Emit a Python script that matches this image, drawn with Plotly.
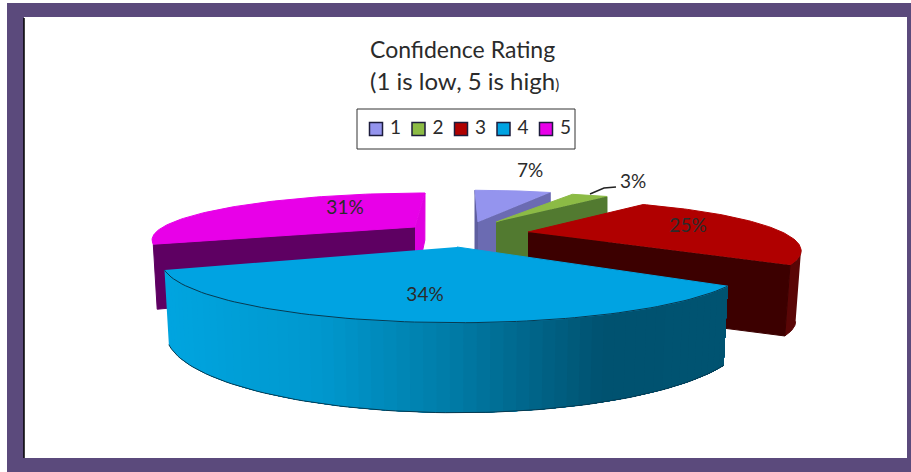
import numpy as np
import plotly.graph_objects as go

# ---- data ----
categories = ["1", "2", "3", "4", "5"]
percents = [7, 3, 25, 34, 31]
title_lines = ["Confidence Rating", '(1 is low, 5 is high<span style="font-size:15px">)</span>']

# ---- style: colours ----
top_colors = ["#9494ee", "#8cbb45", "#b00000", "#00a3e2", "#e800e8"]
cut_colors = ["#6b6bb2", "#527a30", "#3c0000", "#004b66", "#5e0062"]
rim_colors = [None, None, "#5a0606", None, None]
end_colors = ["#5f5fa0", None, None, None, "#e000e0"]
frame_color = "#5b4a7c"
ink = "#2b2b2b"
grad_stops = [(0.0, (0, 165, 224)), (0.28, (0, 152, 206)), (0.52, (0, 122, 165)),
              (0.78, (0, 82, 112)), (1.0, (0, 84, 114))]

# ---- style: projection per slice ----
proj = {
    0: dict(ax=478, ay=222, A=235, B=43.5, k=0.37, s=-3, h=62, hk=0.0, inset=1.0),
    1: dict(ax=496, ay=222, A=265, B=41, k=0.37, s=-11, h=60, hk=0.0, inset=1.0),
    2: dict(ax=528, ay=232, A=254, B=44, k=0.367, s=0, h=71, hk=0.0, inset=0.98),
    3: dict(ax=457, ay=247, A=286, B=57, k=0.247, s=0, h=67.8, hk=0.247, inset=0.985),
    4: dict(ax=415, ay=227, A=252, B=42.5, k=0.25, s=10, h=59, hk=0.25, inset=0.985),
}
draw_order = [0, 1, 4, 2, 3]
label_xy = [(530, 172), (633, 183), (688, 227), (425, 296), (345, 209)]
legend_box = (357, 575, 109, 149)
legend_first_x, legend_step, legend_y = 376, 42.5, 129


def project(i, theta, bottom=False):
    p = proj[i]
    th = np.radians(theta)
    X, Z = np.sin(th), np.cos(th)
    den = 1 + p["k"] * Z
    f = p["inset"] if bottom else 1.0
    x = p["ax"] + f * (p["A"] * X / den + p["s"] * Z)
    y = p["ay"] - p["B"] * Z / den
    if bottom:
        y = y + p["h"] / (1 + p["hk"] * Z)
    return x, y


def apex(i, bottom=False):
    p = proj[i]
    return p["ax"], p["ay"] + (p["h"] if bottom else 0)


def poly(xs, ys, color, line=None, width=1):
    fig.add_trace(go.Scatter(
        x=list(xs), y=list(ys), mode="lines", fill="toself", fillcolor=color,
        line=dict(color=line or color, width=width), hoverinfo="skip", showlegend=False))


def grad_color(t):
    for (t0, c0), (t1, c1) in zip(grad_stops, grad_stops[1:]):
        if t <= t1:
            u = (t - t0) / (t1 - t0)
            return "rgb(%d,%d,%d)" % tuple(c0[j] + (c1[j] - c0[j]) * u for j in range(3))
    return "rgb(%d,%d,%d)" % grad_stops[-1][1]


fig = go.Figure()

cum = np.cumsum([0] + percents) * 3.6
starts, ends = cum[:-1], cum[1:]

for i in draw_order:
    t0, t1 = starts[i], ends[i]
    arc = np.linspace(t0, t1, 80)
    tx, ty = project(i, arc)
    bx, by = project(i, arc, bottom=True)
    ax_, ay_ = apex(i)
    abx, aby = apex(i, bottom=True)

    if i == 3:
        # gradient wall, painted left to right so that no seams show
        n = 60
        edges = np.linspace(t1, t0, n + 1)
        xl, xr = project(i, t1)[0], project(i, t0)[0]
        for a, b in zip(edges[:-1], edges[1:]):
            seg = np.linspace(a, t0, 40)
            sx, sy = project(i, seg)
            ex, ey = project(i, seg, bottom=True)
            mid = project(i, (a + b) / 2)[0]
            col = grad_color((mid - xl) / (xr - xl))
            poly(list(sx) + list(ex[::-1]), list(sy) + list(ey[::-1]), col, width=0)
        fig.add_trace(go.Scatter(x=bx, y=by, mode="lines", hoverinfo="skip", showlegend=False,
                                 line=dict(color="#083a50", width=1)))
    else:
        if rim_colors[i]:
            # only the part of the wall past the rightmost point faces the viewer
            e = int(np.argmax(tx))
            poly(list(tx[e:]) + list(bx[e:][::-1]), list(ty[e:]) + list(by[e:][::-1]), rim_colors[i])
        if end_colors[i]:
            # cut face that looks towards the side
            t_side = t0 if i == 0 else t1
            cx, cy = project(i, t_side)
            dx, dy = project(i, t_side, bottom=True)
            poly([ax_, cx, dx, abx], [ay_, cy, dy, aby], end_colors[i])
        # cut face that looks towards the viewer
        t_front = t0 if i == 4 else t1
        cx, cy = project(i, t_front)
        dx, dy = project(i, t_front, bottom=True)
        poly([ax_, cx, dx, abx], [ay_, cy, dy, aby], cut_colors[i])

    # top face
    poly([ax_] + list(tx), [ay_] + list(ty), top_colors[i], line=top_colors[i], width=1)
    if i == 3:
        fig.add_trace(go.Scatter(x=tx, y=ty, mode="lines", hoverinfo="skip", showlegend=False,
                                 line=dict(color="#083a50", width=1)))

# leader line of the small slice
fig.add_trace(go.Scatter(x=[590, 604, 616], y=[194, 188, 187], mode="lines", hoverinfo="skip",
                         showlegend=False, line=dict(color="#222222", width=1.5)))

# data labels
fig.add_trace(go.Scatter(
    x=[p[0] for p in label_xy], y=[p[1] for p in label_xy], mode="text",
    text=[f"{v}%" for v in percents], textposition="middle center",
    textfont=dict(family="Lato", size=19, color=ink), hoverinfo="skip", showlegend=False))

# legend entries
for j, (name, col) in enumerate(zip(categories, top_colors)):
    fig.add_trace(go.Scatter(
        x=[legend_first_x + j * legend_step], y=[legend_y], mode="markers+text", name=name,
        text=["\u00a0" + name], textposition="middle right",
        textfont=dict(family="Lato", size=19, color=ink), hoverinfo="skip", showlegend=False,
        marker=dict(symbol="square", size=13, color=col, line=dict(color="#1c1c3c", width=1.5))))

fig.update_layout(
    width=911, height=472, margin=dict(l=0, r=0, t=0, b=0),
    paper_bgcolor="white", plot_bgcolor="white", hovermode=False,
    xaxis=dict(range=[0, 911], visible=False, fixedrange=True),
    yaxis=dict(range=[472, 0], visible=False, fixedrange=True),
    font=dict(family="Lato", color=ink),
    shapes=[
        dict(type="rect", xref="x", yref="y", x0=7, x1=911, y0=3, y1=472, fillcolor=frame_color,
             line_width=0, layer="below"),
        dict(type="rect", xref="x", yref="y", x0=24, x1=907, y0=17, y1=458, fillcolor="white",
             line_width=0, layer="below"),
        dict(type="line", xref="x", yref="y", x0=24, x1=24, y0=18, y1=458,
             line=dict(color="black", width=1.5), layer="below"),
        dict(type="rect", xref="x", yref="y", x0=legend_box[0], x1=legend_box[1],
             y0=legend_box[2], y1=legend_box[3], fillcolor="white",
             line=dict(color="#333333", width=1), layer="below"),
    ],
    annotations=[
        dict(x=462, y=49, xref="x", yref="y", text=title_lines[0], showarrow=False,
             font=dict(family="Lato", size=23, color=ink)),
        dict(x=464, y=80, xref="x", yref="y", text=title_lines[1], showarrow=False,
             font=dict(family="Lato", size=24, color=ink)),
    ],
)

fig.write_html("out.html", config={"displayModeBar": False},
               post_script="document.body.style.margin='0';")
